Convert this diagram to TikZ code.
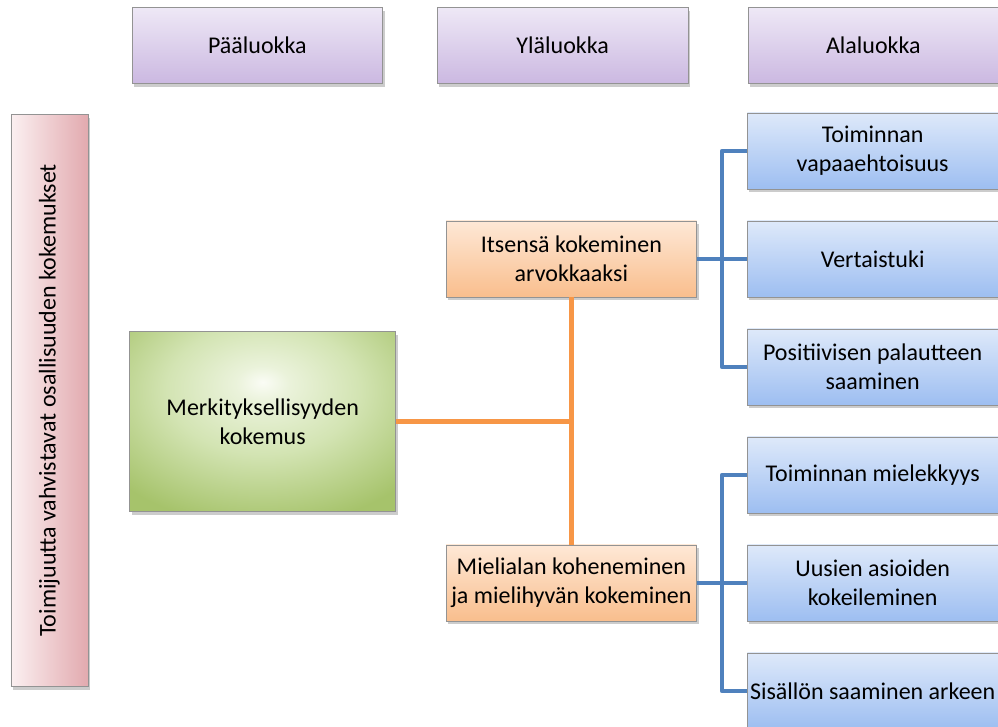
\documentclass[tikz,border=0pt]{standalone}
\usepackage{fontspec}
\setmainfont{Carlito}
\usepackage{tikz}
\usetikzlibrary{positioning,shadows}
\definecolor{lilaTop}{HTML}{EEE8F6}
\definecolor{lilaBot}{HTML}{CBB8E1}
\definecolor{oraTop}{HTML}{FEE8D6}
\definecolor{oraBot}{HTML}{F9BE8D}
\definecolor{sinTop}{HTML}{DEE9FA}
\definecolor{sinBot}{HTML}{9DBEF1}
\definecolor{punLeft}{HTML}{FBF0F1}
\definecolor{punRight}{HTML}{E2AAAF}
\definecolor{vihIn}{HTML}{FAFCF5}
\definecolor{vihMid}{HTML}{D3E4B3}
\definecolor{vihOut}{HTML}{A6C36B}
\definecolor{oraLine}{HTML}{F79646}
\definecolor{sinLine}{HTML}{4F81BD}
\pgfdeclareradialshading{vihrea}{\pgfpoint{0bp}{11bp}}{%
  color(0bp)=(vihIn); color(5bp)=(vihIn!60!vihMid); color(18bp)=(vihMid);
  color(36bp)=(vihOut); color(100bp)=(vihOut)}
\tikzset{
    box/.style={
           rectangle,
           draw=gray!85, thin,
           minimum width=188pt,
           minimum height=57pt,
           inner sep=1pt,
           align=center,
           font=\fontsize{18}{21.5}\selectfont,
           drop shadow={opacity=0.4, shadow xshift=1.5pt, shadow yshift=-2.5pt}
           },
    luokka/.style={box, top color=lilaTop, bottom color=lilaBot},
    yla/.style={box, top color=oraTop, bottom color=oraBot},
    ala/.style={box, top color=sinTop, bottom color=sinBot},
    paa/.style={box, minimum width=199.5pt, minimum height=135pt,
           shading=vihrea},
    teema/.style={box, minimum width=57.75pt, minimum height=429pt,
           left color=punLeft, right color=punRight},
    oline/.style={draw=oraLine, line width=3.5pt},
    bline/.style={draw=sinLine, line width=3.5pt, line join=round}
}
\begin{document}
\begin{tikzpicture}[node distance=81pt, on grid]
\useasboundingbox (0,0) rectangle (748.5pt,545.25pt);
   % otsikot
   \node[luokka] (p)  at (193pt,511pt)  {Pääluokka};
   \node[luokka] (y)  [right=229pt of p] {Yläluokka};
   \node[luokka] (a)  [right=233pt of y] {Alaluokka};
   % vasen palkki ja pääluokka
   \node[teema]  (t)  at (37pt,245pt)   {\rotatebox{90}{Toimijuutta vahvistavat osallisuuden kokemukset}};
   \node[paa]    (m)  at (197pt,229pt)  {Merkityksellisyyden\\kokemus};
   % yläluokat
   \node[yla]    (o1) at (428.5pt,351pt) {Itsensä kokeminen\\arvokkaaksi};
   \node[yla]    (o2) [below=243pt of o1] {Mielialan koheneminen\\ja mielihyvän kokeminen};
   % alaluokat
   \node[ala]    (b2) [right=226pt of o1] {Vertaistuki};
   \node[ala]    (b1) [above=of b2] {Toiminnan\\vapaaehtoisuus};
   \node[ala]    (b3) [below=of b2] {Positiivisen palautteen\\saaminen};
   \node[ala]    (b5) [right=226pt of o2] {Uusien asioiden\\kokeileminen};
   \node[ala]    (b4) [above=of b5] {Toiminnan mielekkyys};
   \node[ala]    (b6) [below=of b5] {Sisällön saaminen arkeen};
   \path[oline]
    (o1.south) -- (o2.north)
    (m.east) -- (m.east -| o1.south);
   \draw[bline] (b1.west) -- ++(-18.75pt,0) |- (b3.west);
   \draw[bline] (o1.east) -- (o1.east -| b2.west);
   \draw[bline] (b4.west) -- ++(-18.75pt,0) |- (b6.west);
   \draw[bline] (o2.east) -- (o2.east -| b5.west);
\end{tikzpicture}
\end{document}
